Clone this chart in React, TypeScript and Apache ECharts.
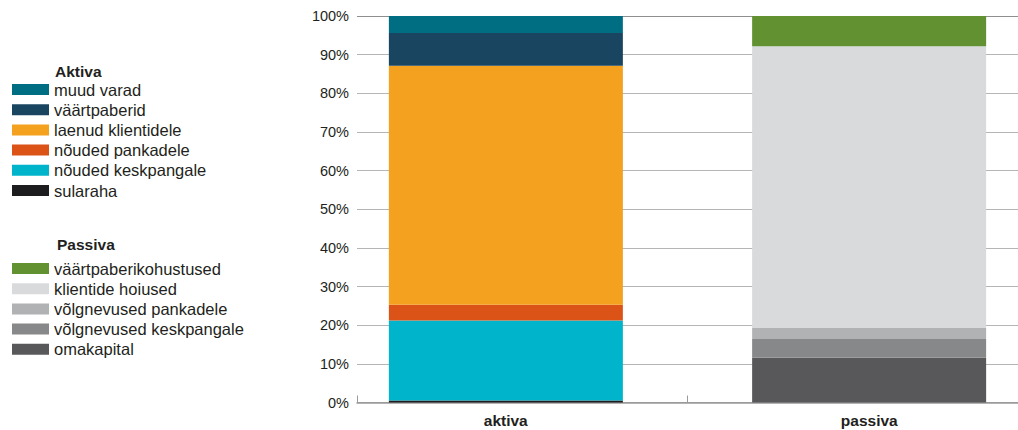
import React, { useEffect, useRef } from "react";
import * as echarts from "echarts";

const categories = ["aktiva", "passiva"];

const aktivaNames = ["sularaha", "nõuded keskpangale", "nõuded pankadele", "laenud klientidele", "väärtpaberid", "muud varad"];
const aktivaValues = [0.5, 20.7, 4.1, 61.8, 8.5, 4.4];
const aktivaColors = ["#1d1d1f", "#00b4cb", "#dc5318", "#f3a11f", "#1a4560", "#006e82"];

const passivaNames = ["omakapital", "võlgnevused keskpangale", "võlgnevused pankadele", "klientide hoiused", "väärtpaberikohustused"];
const passivaValues = [11.6, 4.8, 2.9, 72.9, 7.8];
const passivaColors = ["#58585a", "#878889", "#b1b2b4", "#d9dadc", "#619131"];

const yTicks = [0, 10, 20, 30, 40, 50, 60, 70, 80, 90, 100];

const FONT = "'Liberation Sans', Arial, Helvetica, sans-serif";

export default function App() {
  const ref = useRef<HTMLDivElement>(null);
  useEffect(() => {
    document.body.style.margin = "0";
    const chart = echarts.init(ref.current!, null, { renderer: "svg" });
    const barWidth = 234;
    const series: any[] = [];
    aktivaNames.forEach((n, i) => {
      series.push({
        name: n,
        type: "bar",
        stack: "a",
        barWidth,
        barGap: "-86%",
        itemStyle: { color: aktivaColors[i] },
        data: [aktivaValues[i], "-"],
      });
    });
    passivaNames.forEach((n, i) => {
      series.push({
        name: n,
        type: "bar",
        stack: "p",
        barWidth,
        barGap: "-86%",
        itemStyle: { color: passivaColors[i] },
        data: ["-", passivaValues[i]],
      });
    });
    const legendText = { fontFamily: FONT, fontSize: 16.5, color: "#231f20", lineHeight: 16 };
    const titleText = { fontFamily: FONT, fontSize: 15.5, fontWeight: "bold", color: "#231f20" };
    chart.setOption({
      animation: false,
      textStyle: { fontFamily: FONT },
      title: [
        { text: "Aktiva", left: 55, top: 63, padding: 0, textStyle: titleText },
        { text: "Passiva", left: 57, top: 236, padding: 0, textStyle: titleText },
      ],
      legend: [
        {
          data: [...aktivaNames].reverse(),
          orient: "vertical",
          left: 12,
          top: 81,
          padding: 0,
          itemWidth: 37,
          itemHeight: 11,
          itemGap: 3.2,
          icon: "rect",
          selectedMode: false,
          textStyle: legendText,
        },
        {
          data: [...passivaNames].reverse(),
          orient: "vertical",
          left: 12,
          top: 260,
          padding: 0,
          itemWidth: 37,
          itemHeight: 11,
          itemGap: 3.2,
          icon: "rect",
          selectedMode: false,
          textStyle: legendText,
        },
      ],
      grid: { left: 357, right: -4, top: 16, bottom: 27.5 },
      xAxis: {
        type: "category",
        data: categories,
        axisLine: { lineStyle: { color: "#9a9a9a", width: 1.5 } },
        axisTick: { show: true, inside: true, length: 7, lineStyle: { color: "#9a9a9a" } },
        axisLabel: {
          margin: 10,
          fontFamily: FONT,
          fontSize: 15.5,
          fontWeight: "bold",
          color: "#231f20",
          formatter: (v: string) => (v === "aktiva" ? `{l|${v}}` : `{r|${v}}`),
          rich: {
            l: { padding: [0, 33, 0, 0], fontFamily: FONT, fontSize: 15.5, fontWeight: "bold", color: "#231f20" },
            r: { padding: [0, 0, 0, 33], fontFamily: FONT, fontSize: 15.5, fontWeight: "bold", color: "#231f20" },
          },
        },
      },
      yAxis: {
        type: "value",
        min: yTicks[0],
        max: yTicks[yTicks.length - 1],
        interval: 10,
        axisLine: { show: false },
        axisTick: { show: false },
        axisLabel: { margin: 8, fontFamily: FONT, fontSize: 14.5, color: "#231f20", formatter: "{value}%" },
        splitLine: {
          lineStyle: {
            color: ["#9a9a9a", "#b5b5b5", "#b5b5b5", "#b5b5b5", "#b5b5b5", "#b5b5b5", "#b5b5b5", "#b5b5b5", "#b5b5b5", "#b5b5b5", "#8f8f8f"],
            width: 1.2,
          },
        },
      },
      series,
    });
    return () => chart.dispose();
  }, []);
  return <div ref={ref} style={{ width: 1018, height: 430 }} />;
}
